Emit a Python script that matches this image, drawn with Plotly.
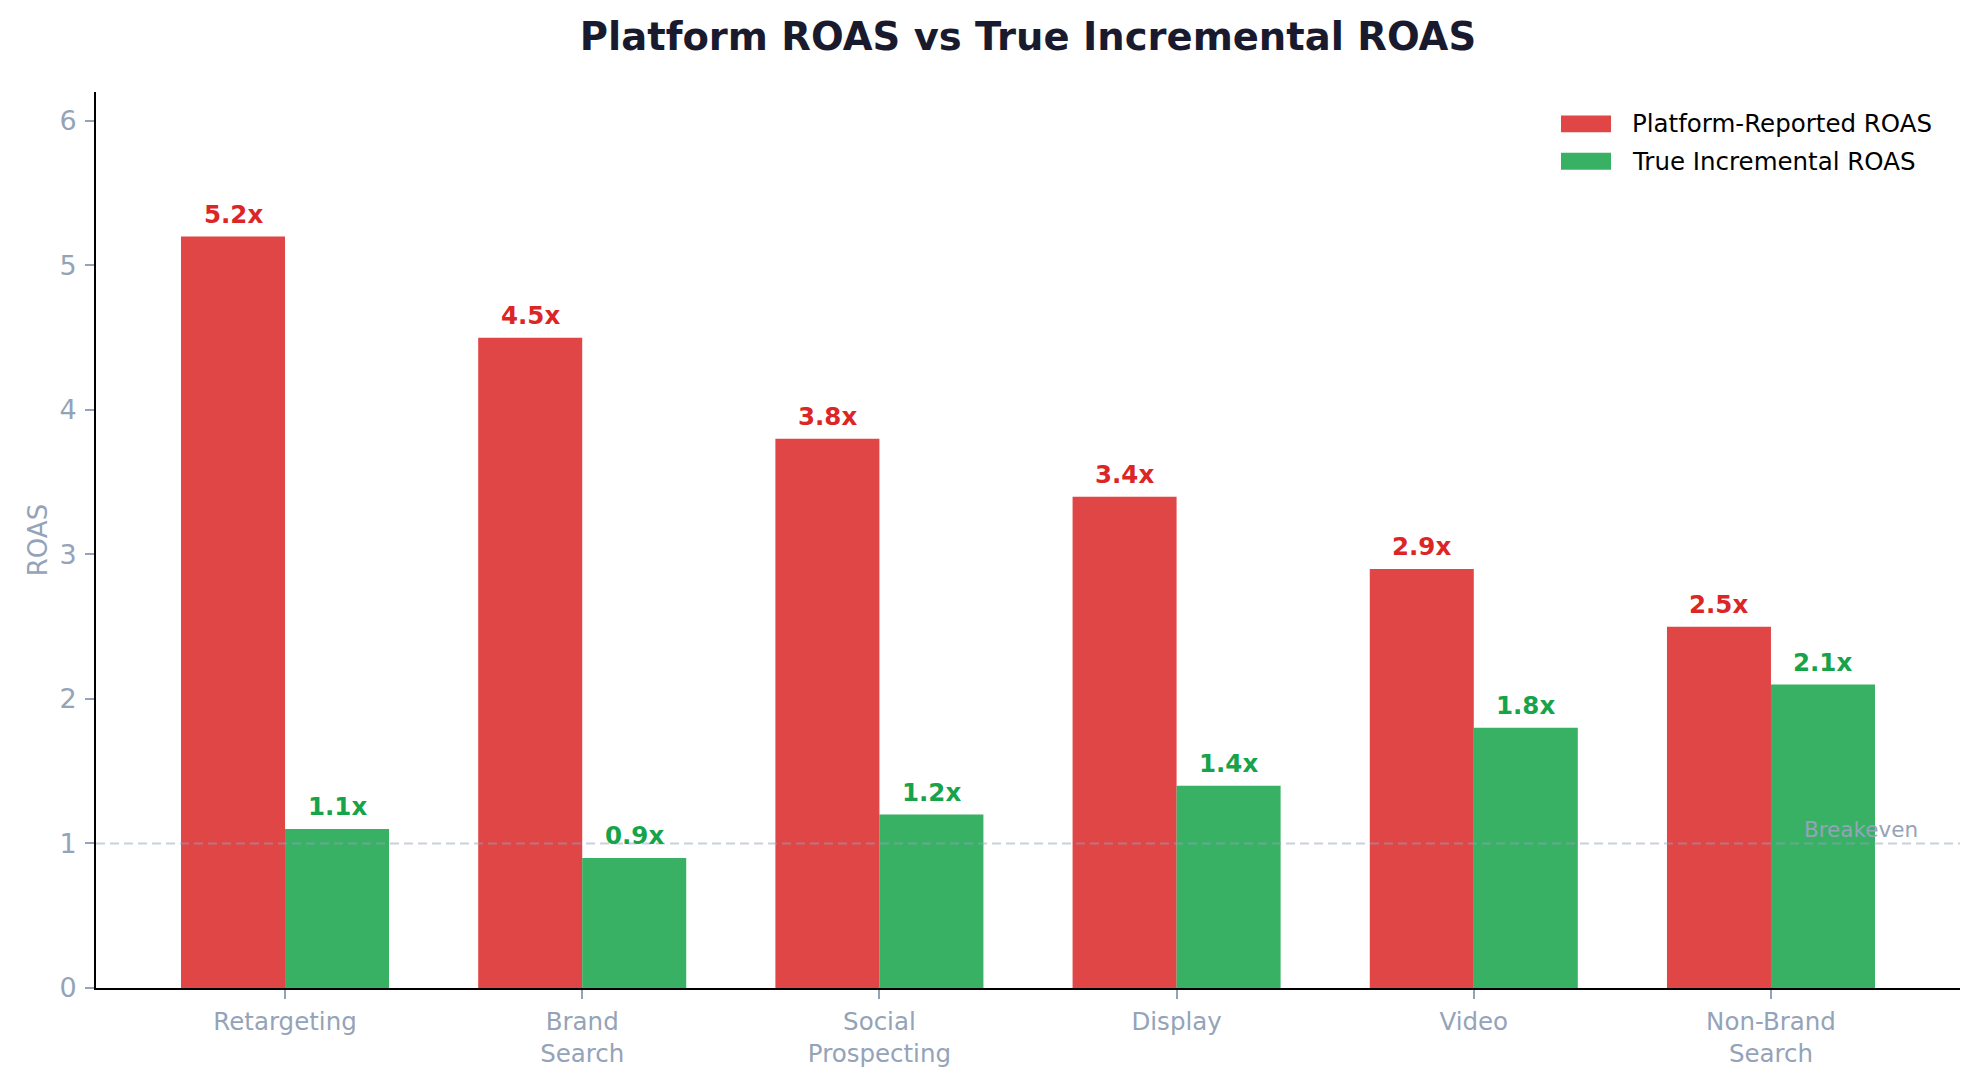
import plotly.graph_objects as go

# ---- data ----
channels = ["Retargeting", "Brand<br>Search", "Social<br>Prospecting", "Display", "Video", "Non-Brand<br>Search"]
platform_roas = [5.2, 4.5, 3.8, 3.4, 2.9, 2.5]
true_roas = [1.1, 0.9, 1.2, 1.4, 1.8, 2.1]
series_names = ["Platform-Reported ROAS", "True Incremental ROAS"]
breakeven = 1.0

# ---- style ----
FONT = "DejaVu Sans"
RED_BAR = "rgba(220,38,38,0.85)"
RED_TXT = "#dc2626"
GRN_BAR = "rgba(22,163,74,0.85)"
GRN_TXT = "#16a34a"
SLATE = "#94a3b8"
W = 0.35

W_PX, H_PX = 1979, 1080
ML, MR, MT, MB = 96, 19, 92, 88
PW = W_PX - ML - MR
PH = H_PX - MT - MB


def px2paper_x(px):
    return (px - ML) / PW


def px2paper_y(py):
    return (H_PX - MB - py) / PH


idx = list(range(len(channels)))
x_red = [i - W / 2 for i in idx]
x_grn = [i + W / 2 for i in idx]

fig = go.Figure()
fig.add_trace(go.Bar(x=x_red, y=platform_roas, width=W, marker=dict(color=RED_BAR, line=dict(width=0)),
                     name=series_names[0], showlegend=False, hoverinfo="y"))
fig.add_trace(go.Bar(x=x_grn, y=true_roas, width=W, marker=dict(color=GRN_BAR, line=dict(width=0)),
                     name=series_names[1], showlegend=False, hoverinfo="y"))

annotations = []
for xs, ys, col in ((x_red, platform_roas, RED_TXT), (x_grn, true_roas, GRN_TXT)):
    for xv, yv in zip(xs, ys):
        annotations.append(dict(x=xv, y=yv, xref="x", yref="y", text=f"<b>{yv:.1f}x</b>",
                                showarrow=False, yanchor="bottom", xanchor="center", yshift=6,
                                font=dict(family=FONT, size=24.5, color=col)))

# breakeven label
annotations.append(dict(x=5.5, y=breakeven, xref="x", yref="y", text="Breakeven", showarrow=False,
                        xanchor="right", yanchor="bottom", yshift=-1,
                        font=dict(family=FONT, size=21.5, color=SLATE)))

# manual legend
shapes = []
legend_rows = [(124, RED_BAR, series_names[0]), (161.5, GRN_BAR, series_names[1])]
for cy, col, label in legend_rows:
    shapes.append(dict(type="rect", xref="paper", yref="paper",
                       x0=px2paper_x(1561), x1=px2paper_x(1611),
                       y0=px2paper_y(cy + 8.5), y1=px2paper_y(cy - 8.5),
                       fillcolor=col, line=dict(width=0), layer="above"))
    annotations.append(dict(x=px2paper_x(1630), y=px2paper_y(cy), xref="paper", yref="paper",
                            text=label, showarrow=False, xanchor="left", yanchor="middle",
                            font=dict(family=FONT, size=24.5, color="#000000")))

# breakeven line
shapes.append(dict(type="line", xref="paper", yref="y", x0=0, x1=1, y0=breakeven, y1=breakeven,
                   line=dict(color="rgba(148,163,184,0.5)", width=2, dash="9px,5px"), layer="above"))

fig.update_layout(
    width=W_PX, height=H_PX,
    margin=dict(l=ML, r=MR, t=MT, b=MB),
    paper_bgcolor="white", plot_bgcolor="white",
    font=dict(family=FONT),
    title=dict(text="<b>Platform ROAS vs True Incremental ROAS</b>", x=0.5, xref="paper",
               y=1 - 36.5 / H_PX, yref="container", xanchor="center", yanchor="middle",
               font=dict(family=FONT, size=38.5, color="#1a1a2e")),
    barmode="overlay",
    annotations=annotations,
    shapes=shapes,
    showlegend=False,
    xaxis=dict(range=[-0.636, 5.636], tickmode="array", tickvals=idx, ticktext=channels,
               showgrid=False, zeroline=False, showline=True, linecolor="black", linewidth=2,
               ticks="outside", ticklen=9, tickwidth=1.5, tickcolor=SLATE,
               tickfont=dict(family=FONT, size=24.5, color=SLATE), ticklabelstandoff=2),
    yaxis=dict(range=[0, 6.2], tickmode="array", tickvals=[0, 1, 2, 3, 4, 5, 6],
               showgrid=False, zeroline=False, showline=True, linecolor="black", linewidth=2,
               ticks="outside", ticklen=9, tickwidth=1.5, tickcolor=SLATE,
               tickfont=dict(family=FONT, size=27, color=SLATE), ticklabelstandoff=3,
               title=dict(text="ROAS", standoff=4, font=dict(family=FONT, size=26, color=SLATE))),
)

fig.write_html("out.html")
